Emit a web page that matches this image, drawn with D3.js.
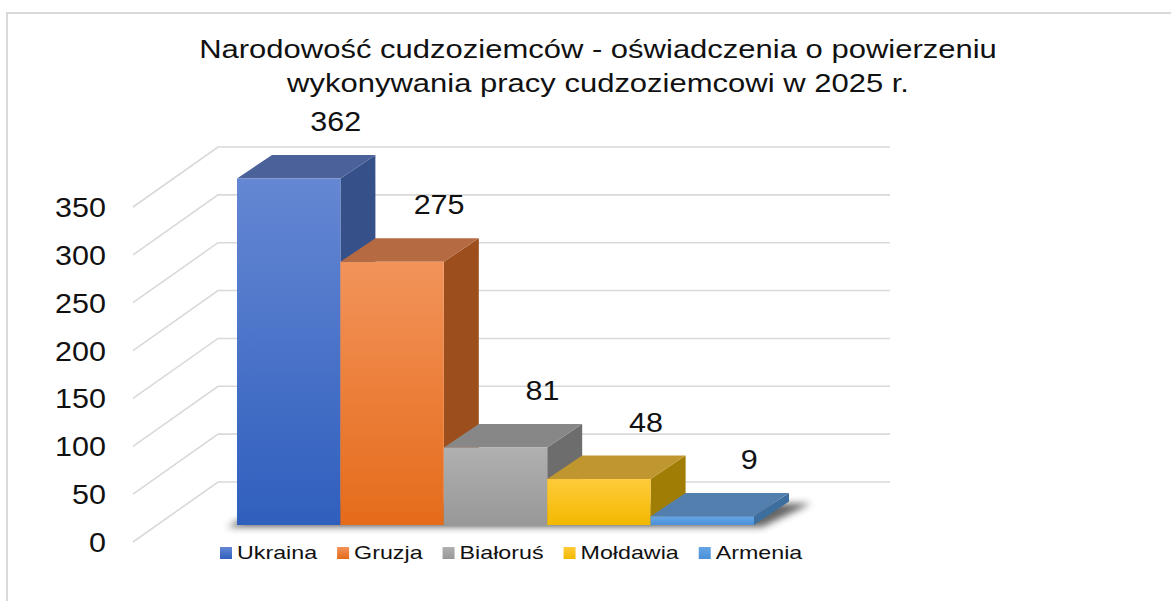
<!DOCTYPE html>
<html>
<head>
<meta charset="utf-8">
<script src="https://cdn.jsdelivr.net/npm/d3@7"></script>
<style>
    body { margin: 0; background: #fff; }
    svg { display: block; font-family: "Liberation Sans", Arial, sans-serif; }
</style>
</head>
<body>
<div id="chart"></div>
<script>
// data
const categories = ["Ukraina", "Gruzja", "Białoruś", "Mołdawia", "Armenia"];
const values = [362, 275, 81, 48, 9];
const yTicks = [0, 50, 100, 150, 200, 250, 300, 350];
const titleLines = ["Narodowość cudzoziemców - oświadczenia o powierzeniu", "wykonywania pracy cudzoziemcowi w 2025 r."];

// face colours per series: front gradient top/bottom, top face, side face
const faces = {
    "Ukraina":  { f1: "#6587d3", f2: "#2f5fbd", top: "#4a6199", side: "#36508a" },
    "Gruzja":   { f1: "#f2935a", f2: "#e56b1a", top: "#b66a41", side: "#9c4e1c" },
    "Białoruś": { f1: "#b0b0b0", f2: "#989898", top: "#878787", side: "#6d6d6d" },
    "Mołdawia": { f1: "#ffcb3a", f2: "#f2b900", top: "#c0972f", side: "#a07e05" },
    "Armenia":  { f1: "#66a6e6", f2: "#4a8fd7", top: "#527fae", side: "#3c6e9e" }
};

const width = 1171, height = 601;
const wallDx = -85, wallDy = 60;      // back wall -> front edge of side wall
const barFrontDy = 43;                // back wall -> bar front plane
const depthDx = 35, depthDy = -23.5;  // bar front -> bar back

const svg = d3.select('#chart').append('svg')
    .attr('width', width)
    .attr('height', height);

const defs = svg.append('defs');
categories.forEach((c, i) => {
    const g = defs.append('linearGradient')
        .attr('id', 'grad' + i)
        .attr('x1', 0).attr('x2', 0).attr('y1', 0).attr('y2', 1);
    g.append('stop').attr('offset', '0%').attr('stop-color', faces[c].f1);
    g.append('stop').attr('offset', '100%').attr('stop-color', faces[c].f2);
});
defs.append('filter').attr('id', 'blur')
    .attr('x', '-20%').attr('y', '-50%').attr('width', '140%').attr('height', '200%')
    .append('feGaussianBlur').attr('stdDeviation', 3.5);

// border of the chart area
svg.append('path')
    .attr('d', `M7,${height} L7,13 L${width},13`)
    .attr('fill', 'none')
    .attr('stroke', '#d9d9d9')
    .attr('stroke-width', 2);

function stretchedText(parent, x, y, sx, txt, size, anchor) {
    return parent.append('g')
        .attr('transform', `translate(${x},${y}) scale(${sx},1)`)
        .append('text')
        .attr('font-size', size)
        .attr('text-anchor', anchor)
        .attr('fill', '#111')
        .text(txt);
}

// title
titleLines.forEach((t, i) => {
    stretchedText(svg, 598, 57.5 + i * 34, 1.24, t, 25, 'middle');
});

const x = d3.scaleBand()
    .domain(categories)
    .range([237, 754])
    .padding(0);

// value scale on the back wall
const y = d3.scaleLinear()
    .domain([0, 350])
    .range([482, 147]);

// gridlines: back wall + side wall
const grid = svg.append('g')
    .attr('stroke', '#d9d9d9')
    .attr('stroke-width', 1.6)
    .attr('fill', 'none');

yTicks.forEach(t => {
    grid.append('path')
        .attr('d', `M${218 + wallDx},${y(t) + wallDy} L218,${y(t)} L890,${y(t)}`);
});

// axis labels on the front edge
yTicks.forEach(t => {
    stretchedText(svg, 106, y(t) + wallDy + 10, 1.09, t, 28, 'end');
});

// shadow on the floor under the bars
const x0 = x.range()[0], x1 = x.range()[1];
const base = y(0) + barFrontDy;
svg.append('path')
    .attr('d', `M${x0 - 10},${base + 2} L${x1 + 8},${base + 2} L${x1 + depthDx + 22},${base + depthDy + 2} L${x0 + depthDx},${base + depthDy + 2} Z`)
    .attr('fill', '#333')
    .attr('opacity', 0.75)
    .attr('filter', 'url(#blur)');

// bars, left to right so each front covers the previous side
const bars = svg.append('g');
categories.forEach((c, i) => {
    const v = values[i];
    const bx = x(c), bw = x.bandwidth();
    const top = y(v) + barFrontDy;
    const g = bars.append('g');

    g.append('path')
        .attr('d', `M${bx + bw},${top} L${bx + bw + depthDx},${top + depthDy} L${bx + bw + depthDx},${base + depthDy} L${bx + bw},${base} Z`)
        .attr('fill', faces[c].side);

    g.append('path')
        .attr('d', `M${bx},${top} L${bx + depthDx},${top + depthDy} L${bx + bw + depthDx},${top + depthDy} L${bx + bw},${top} Z`)
        .attr('fill', faces[c].top);

    g.append('rect')
        .attr('x', bx)
        .attr('y', top)
        .attr('width', bw)
        .attr('height', base - top)
        .attr('fill', `url(#grad${i})`);
});

// data labels
categories.forEach((c, i) => {
    const v = values[i];
    const top = y(v) + barFrontDy + depthDy;
    stretchedText(svg, x(c) + x.bandwidth() / 2 + depthDx + 12, top - 24, 1.09, v, 28, 'middle');
});

// legend
const legend = svg.append('g');
let lx = 220;
categories.forEach((c, i) => {
    legend.append('rect')
        .attr('x', lx)
        .attr('y', 547)
        .attr('width', 12)
        .attr('height', 12)
        .attr('fill', `url(#grad${i})`);
    const t = stretchedText(legend, lx + 17, 559, 1.25, c, 18.6, 'start');
    const w = t.node().getComputedTextLength() * 1.25;
    lx += 17 + w + 20;
});
</script>
</body>
</html>
